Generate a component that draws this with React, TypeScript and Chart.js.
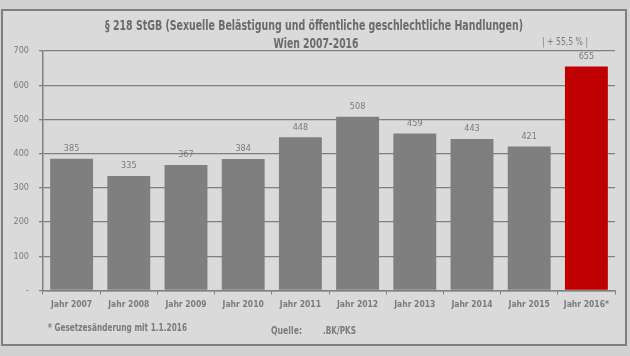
import React, { useEffect, useRef } from "react";
import { Chart, registerables } from "chart.js";

Chart.register(...registerables);

const categories = [
  "Jahr 2007",
  "Jahr 2008",
  "Jahr 2009",
  "Jahr 2010",
  "Jahr 2011",
  "Jahr 2012",
  "Jahr 2013",
  "Jahr 2014",
  "Jahr 2015",
  "Jahr 2016*",
];
const values = [385, 335, 367, 384, 448, 508, 459, 443, 421, 655];
const barColors = [
  "#7f7f7f", "#7f7f7f", "#7f7f7f", "#7f7f7f", "#7f7f7f",
  "#7f7f7f", "#7f7f7f", "#7f7f7f", "#7f7f7f", "#c00000",
];
const titleLines = [
  "§ 218 StGB (Sexuelle Belästigung und öffentliche geschlechtliche Handlungen)",
  "Wien 2007-2016",
];
const changeLabel = "| + 55,5 % |";
const footnote = "* Gesetzesänderung mit 1.1.2016";
const sourceLabel = "Quelle:";
const sourceValue = ".BK/PKS";

const FONT = "'DejaVu Sans Condensed', 'Liberation Sans', sans-serif";
const TEXT = "#7a7a7a";
const GRID = "#7f7f7f";

// draw text horizontally squeezed to a target width (Calibri-like narrowness)
function fitText(ctx: CanvasRenderingContext2D, text: string, x: number, y: number, width: number, align: "left" | "center") {
  const w = ctx.measureText(text).width;
  const sx = width / w;
  ctx.save();
  ctx.textAlign = "left";
  const left = align === "center" ? x - width / 2 : x;
  ctx.translate(left, y);
  ctx.scale(sx, 1);
  ctx.fillText(text, 0, 0);
  ctx.restore();
}

export default function App() {
  const ref = useRef<HTMLCanvasElement | null>(null);

  useEffect(() => {
    document.body.style.margin = "0";
    const canvas = ref.current;
    if (!canvas) return;

    const decor = {
      id: "decor",
      beforeDraw(chart: any) {
        const ctx = chart.ctx;
        ctx.save();
        ctx.fillStyle = "#d2d2d2";
        ctx.fillRect(0, 0, 630, 356);
        ctx.fillStyle = "#dadada";
        ctx.fillRect(2, 10, 624, 335);
        ctx.strokeStyle = "#808080";
        ctx.lineWidth = 2;
        ctx.strokeRect(2, 10, 624, 335);
        ctx.restore();
      },
      afterDatasetsDraw(chart: any) {
        const ctx = chart.ctx;
        const meta = chart.getDatasetMeta(0);
        ctx.save();
        ctx.textAlign = "center";
        ctx.textBaseline = "middle";
        ctx.fillStyle = TEXT;
        ctx.font = `9px ${FONT}`;
        meta.data.forEach((bar: any, i: number) => {
          ctx.fillText(String(values[i]), bar.x, bar.y - 10);
        });

        // title
        ctx.fillStyle = "#6a6a6a";
        ctx.font = `bold 14px ${FONT}`;
        fitText(ctx, titleLines[0], 314, 26, 418, "center");
        fitText(ctx, titleLines[1], 316, 44, 85, "center");

        // change annotation
        ctx.fillStyle = TEXT;
        ctx.font = `10px ${FONT}`;
        fitText(ctx, changeLabel, 565, 42, 46, "center");

        // footer
        ctx.font = `bold 11px ${FONT}`;
        fitText(ctx, footnote, 48, 328, 139, "left");
        fitText(ctx, sourceLabel, 271, 331, 31, "left");
        fitText(ctx, sourceValue, 323, 331, 33, "left");
        ctx.restore();
      },
    };

    const chart = new Chart(canvas, {
      type: "bar",
      data: {
        labels: categories,
        datasets: [
          {
            data: values,
            backgroundColor: barColors,
            borderWidth: 0,
            barPercentage: 0.75,
            categoryPercentage: 1,
          },
        ],
      },
      options: {
        responsive: false,
        animation: false,
        layout: { padding: { top: 51, right: 15, bottom: 35.5, left: 0 } },
        plugins: {
          legend: { display: false },
          title: { display: false },
          tooltip: { enabled: false },
        },
        scales: {
          x: {
            afterFit: (s: any) => {
              s.height = 30;
            },
            grid: {
              offset: true,
              drawOnChartArea: false,
              drawTicks: true,
              tickLength: 4,
              color: GRID,
              lineWidth: 1,
            },
            border: { display: true, color: GRID, width: 1.5 },
            ticks: {
              color: TEXT,
              font: { family: FONT, size: 8.5, weight: "bold" },
              padding: 5,
              maxRotation: 0,
              autoSkip: false,
            },
          },
          y: {
            min: 0,
            max: 700,
            afterFit: (s: any) => {
              s.width = 43;
            },
            grid: {
              color: GRID,
              lineWidth: 1.3,
              drawTicks: true,
              tickLength: 4,
            },
            border: { display: true, color: GRID, width: 1.5 },
            ticks: {
              stepSize: 100,
              color: TEXT,
              padding: 10,
              font: { family: FONT, size: 9 },
              callback: (v: any) => (Number(v) === 0 ? "-" : String(v)),
            },
          },
        },
      },
      plugins: [decor],
    });

    return () => chart.destroy();
  }, []);

  return (
    <div style={{ width: 630, height: 356, position: "relative" }}>
      <canvas ref={ref} width={630} height={356} style={{ display: "block" }} />
    </div>
  );
}
